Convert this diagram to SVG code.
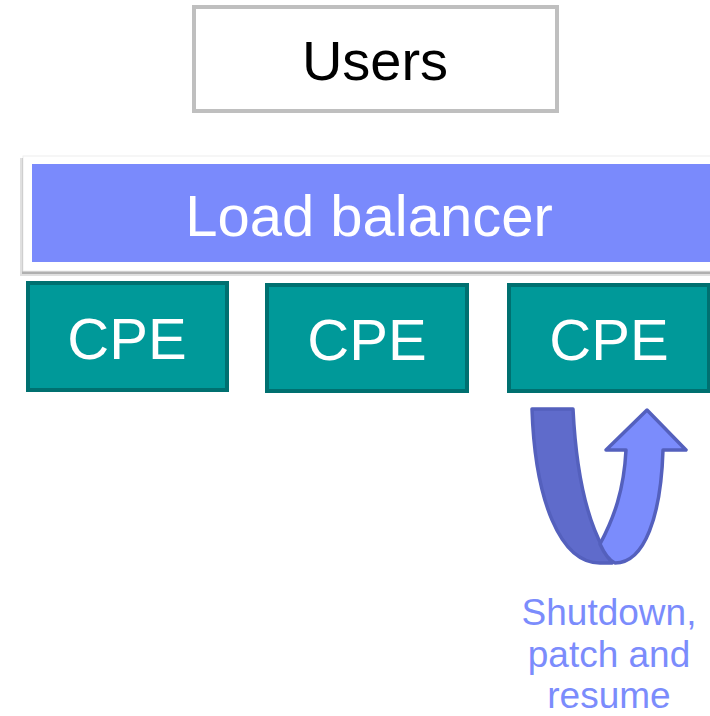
<svg xmlns="http://www.w3.org/2000/svg" width="710" height="716" viewBox="0 0 710 716">
<defs>
<style>
text{font-family:"Liberation Sans",Arial,sans-serif;text-anchor:middle}
.cpe rect{fill:#009999;stroke:#007070;stroke-width:4}
.cpe text{fill:#ffffff;font-size:58px}
</style>
</defs>
<rect width="710" height="716" fill="#ffffff"/>
<g id="users">
<rect x="194" y="7" width="363" height="104" fill="#ffffff" stroke="#bfbfbf" stroke-width="4"/>
<text x="375" y="80" font-size="56" fill="#000000">Users</text>
</g>
<g id="load-balancer">
<rect x="20" y="158" width="700" height="118" fill="#a6a6a6" opacity="0.35"/>
<rect x="22" y="158" width="700" height="116" fill="#b0b0b0"/>
<rect x="23" y="156" width="700" height="115" fill="#ffffff" stroke="#eeeeee" stroke-width="1"/>
<rect x="32" y="164" width="690" height="98" fill="#7a8afc"/>
<text x="369" y="236" font-size="58" fill="#ffffff">Load balancer</text>
</g>
<g id="cpe1" class="cpe">
<rect x="28" y="283" width="199" height="107"/>
<text x="127" y="359">CPE</text>
</g>
<g id="cpe2" class="cpe">
<rect x="267" y="285" width="200" height="106"/>
<text x="367" y="360">CPE</text>
</g>
<g id="cpe3" class="cpe">
<rect x="509" y="285" width="200" height="106"/>
<text x="609" y="360">CPE</text>
</g>
<g id="connectors">
<g id="restart-arrow" stroke="#5460bd" stroke-width="3.5" stroke-linejoin="round">
<path d="M532,409 L573,409 C576,470 585,515 603,548 L612,563 L600,563 C560,563 535,500 532,409 Z" fill="#5f6bcb"/>
<path d="M600,544 C614,518 624,490 626,450 L606,450 L647,410 L686,450 L663,450 C661,515 645,563 615,563 C608,560 604,553 600,544 Z" fill="#7b8cfc"/>
</g>
</g>
<g id="caption" fill="#7b8cfc" font-size="37">
<text x="609" y="625">Shutdown,</text>
<text x="609" y="667">patch and</text>
<text x="609" y="708">resume</text>
</g>
</svg>
